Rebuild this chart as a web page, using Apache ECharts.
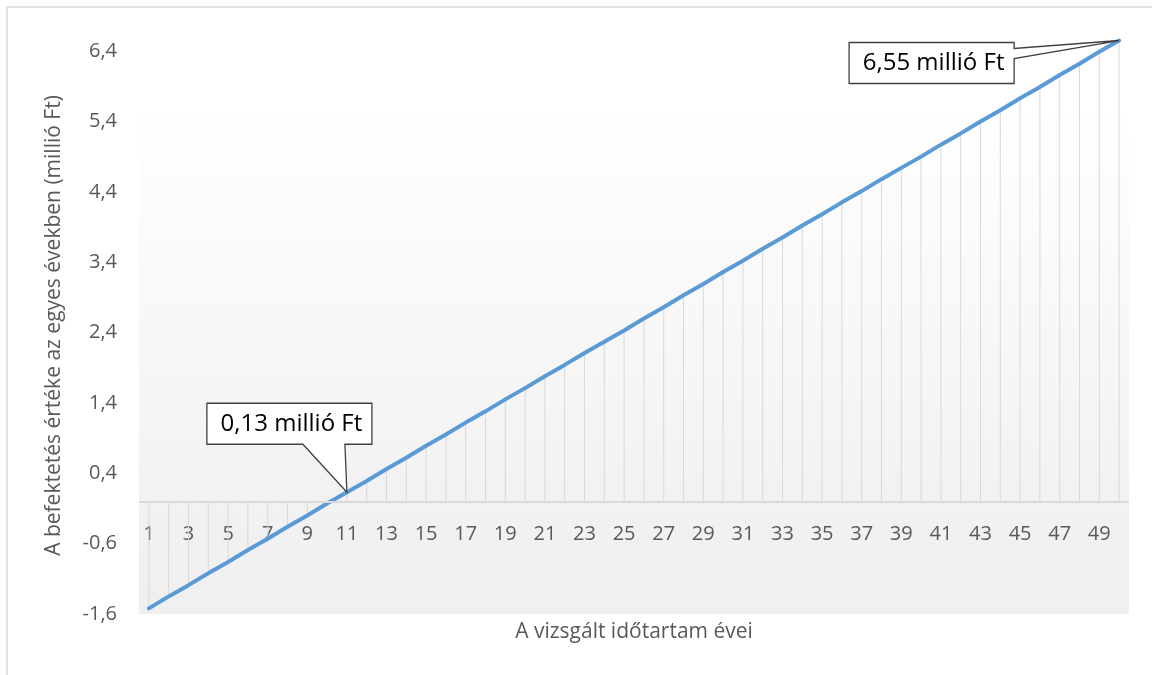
<!DOCTYPE html>
<html>
<head>
<meta charset="utf-8">
<script src="https://cdn.jsdelivr.net/npm/echarts@6/dist/echarts.min.js"></script>
<style>html,body{margin:0;padding:0;background:#fff}#c{width:1152px;height:675px}</style>
</head>
<body>
<div id="c"></div>
<script>
var years = [];
for (var i = 1; i <= 50; i++) years.push(String(i));
var values = [-1.52,-1.35,-1.19,-1.02,-0.86,-0.69,-0.53,-0.36,-0.20,-0.03,
  0.13,0.29,0.46,0.62,0.79,0.95,1.12,1.28,1.45,1.61,
  1.78,1.94,2.11,2.27,2.43,2.60,2.76,2.93,3.09,3.26,
  3.42,3.59,3.75,3.92,4.08,4.25,4.41,4.58,4.74,4.90,
  5.07,5.23,5.40,5.56,5.73,5.89,6.06,6.22,6.39,6.55];
var callouts = [
  {year: '11', value: 0.13, text: '0,13 millió Ft'},
  {year: '50', value: 6.55, text: '6,55 millió Ft'}
];
var yMin = -1.6, yMax = 6.6, yStep = 1;
var xTitle = 'A vizsgált időtartam évei';
var yTitle = 'A befektetés értéke az egyes években (millió Ft)';

var FONT = '"Open Sans", sans-serif';
var chart = echarts.init(document.getElementById('c'));
var option = {
  animation: false,
  textStyle: {fontFamily: FONT},
  grid: {
    left: 139, right: 23, top: 37, bottom: 61, show: true, borderWidth: 0,
    containLabel: false, outerBoundsMode: 'none',
    backgroundColor: new echarts.graphic.LinearGradient(0, 0, 0, 1, [
      {offset: 0, color: '#ffffff'},
      {offset: 0.12, color: '#ffffff'},
      {offset: 0.78, color: '#f2f2f2'},
      {offset: 1, color: '#efefef'}
    ])
  },
  xAxis: {
    type: 'category', data: years, boundaryGap: true,
    axisLine: {show: false, onZero: false},
    axisTick: {show: false},
    axisLabel: {inside: true, interval: 1, color: '#595959', fontSize: 20, margin: 70, fontFamily: FONT},
    name: xTitle, nameLocation: 'middle', nameGap: 8,
    nameTextStyle: {color: '#595959', fontSize: 21, fontFamily: FONT}
  },
  yAxis: {
    type: 'value', min: yMin, max: yMax, interval: yStep,
    axisLine: {show: false}, axisTick: {show: false}, splitLine: {show: false},
    axisLabel: {
      color: '#595959', fontSize: 20, margin: 22, fontFamily: FONT,
      formatter: function (v) {
        var k = (v - yMin) / yStep;
        if (Math.abs(k - Math.round(k)) > 1e-6) return '';
        return v.toFixed(1).replace('.', ',');
      }
    },
    name: yTitle, nameLocation: 'middle', nameRotate: 90, nameGap: 74,
    nameTextStyle: {color: '#595959', fontSize: 21, fontFamily: FONT}
  },
  series: [
    {type: 'bar', data: values, barWidth: 1, itemStyle: {color: '#d9d9d9'}, z: 1, silent: true,
     markLine: {silent: true, symbol: 'none', label: {show: false},
       lineStyle: {color: '#d9d9d9', width: 2, type: 'solid'}, data: [{yAxis: 0}]}},
    {type: 'line', data: values, showSymbol: false, lineStyle: {color: '#5b9bd5', width: 4, cap: 'round'}, z: 3, silent: true}
  ]
};
chart.setOption(option);

var g = [{
  type: 'rect', shape: {x: 7, y: 7, width: 1300, height: 800},
  style: {fill: 'none', stroke: '#d9d9d9', lineWidth: 1.5}, z: 0, silent: true
}];
callouts.forEach(function (c, idx) {
  var p = chart.convertToPixel({gridIndex: 0}, [c.year, c.value]);
  var pts, L, R, T, B;
  if (idx === 0) {
    L = p[0] - 140; R = p[0] + 25; T = p[1] - 89; B = p[1] - 48;
    pts = [[L, T], [R, T], [R, B], [p[0] - 2, B], [p[0], p[1]], [p[0] - 44, B], [L, B]];
  } else {
    L = p[0] - 270; R = p[0] - 105; T = p[1] + 2; B = p[1] + 43;
    pts = [[L, T], [R, T], [R, p[1] + 8], [p[0], p[1]], [R, p[1] + 18], [R, B], [L, B]];
  }
  g.push({
    type: 'polygon', shape: {points: pts},
    style: {fill: '#ffffff', stroke: '#404040', lineWidth: 1.3}, z: 10, silent: true
  });
  g.push({
    type: 'text', x: (L + R) / 2 + 2, y: (T + B) / 2,
    style: {text: c.text, fill: '#000000', fontSize: 24, fontFamily: FONT, align: 'center', verticalAlign: 'middle'},
    z: 11, silent: true
  });
});
chart.setOption({graphic: g});
</script>
</body>
</html>
